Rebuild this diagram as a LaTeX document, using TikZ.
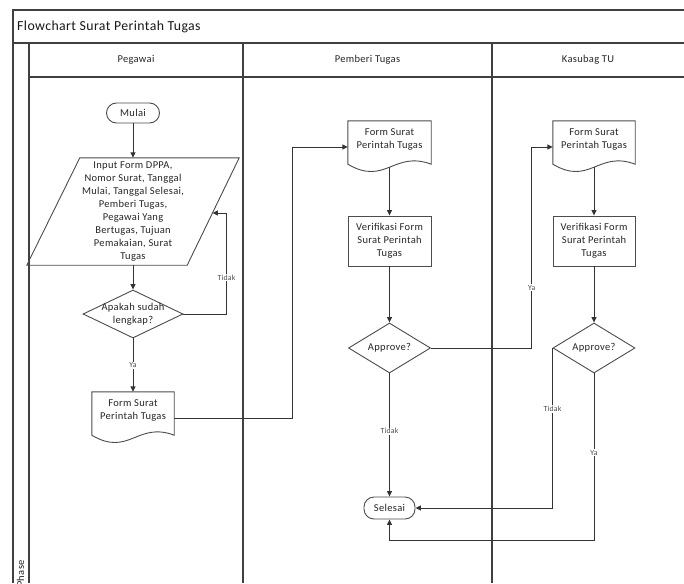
\documentclass[tikz,border=0pt]{standalone}
\usepackage{fontspec}
\setmainfont{Carlito}[LetterSpace=3]
\usetikzlibrary{calc,arrows.meta,shapes.geometric}

\tikzset{
  lane/.style={draw=black!75, line width=1.1pt},
  outline/.style={draw=black!70, line width=0.9pt},
  body/.style={font=\fontsize{10.5}{13}\selectfont, align=center, inner sep=0pt, text=black!85},
  term/.style={body, outline, rounded corners=10pt, minimum height=21pt},
  proc/.style={body, outline, minimum width=83pt, minimum height=50pt},
  decision/.style={outline, diamond, inner sep=0pt},
  docbox/.style={body, minimum width=82pt, minimum height=36pt},
  flow/.style={draw=black!80, line width=0.9pt, -{Triangle[length=5.5pt,width=5pt]}},
  lbl/.style={font=\fontsize{7.8}{9}\selectfont, fill=white, inner sep=1pt, text=black!70},
  hdr/.style={font=\fontsize{10.5}{12}\selectfont, text=black!85},
}

% document symbol: straight sides with a wavy bottom edge
\newcommand\docoutline[1]{%
  \coordinate (#1-bl) at ([yshift=-7pt]#1.south west);
  \coordinate (#1-br) at ([yshift=-7pt]#1.south east);
  \draw[outline] (#1-bl) -- (#1.north west) -- (#1.north east) -- (#1-br)
    .. controls ($(#1-bl)!0.55!(#1-br)+(0,-14)$) and ($(#1-bl)!0.45!(#1-br)+(0,22)$) .. (#1-bl) -- cycle;
}

\begin{document}
\begin{tikzpicture}[x=1pt,y=-1pt]
\useasboundingbox (0,0) rectangle (684,583);
\fill[white] (0,0) rectangle (684,583);

% swimlane frame
\draw[lane] (13,583) -- (13,10) -- (684,10);
\draw[lane] (13,43) -- (684,43);
\draw[lane] (29,43) -- (29,583);
\draw[lane] (29,77) -- (684,77);
\draw[lane] (243,43) -- (243,583);
\draw[lane] (492,43) -- (492,583);

\node[font=\fontsize{13.8}{16}\selectfont, anchor=west, inner sep=0pt, text=black!90] (title) at (17,26.5) {Flowchart Surat Perintah Tugas};
\node[hdr] (h1) at (136,60) {Pegawai};
\node[hdr] (h2) at (367.5,60) {Pemberi Tugas};
\node[hdr] (h3) at (588,60) {Kasubag TU};
\node[hdr, rotate=90, anchor=east, inner sep=0pt] (phase) at (20.5,560) {Phase};

% Pegawai lane
\node[term, minimum width=53pt, minimum height=20pt] (mulai) at (133,113) {Mulai};
\node[body, minimum width=212pt, minimum height=107pt] (inp) at (133,211.5)
  {Input Form DPPA,\\Nomor Surat, Tanggal\\Mulai, Tanggal Selesai,\\Pemberi Tugas,\\Pegawai Yang\\Bertugas, Tujuan\\Pemakaian, Surat\\Tugas};
\coordinate (pTL) at ($(inp.north west)+(53,0)$);
\coordinate (pBR) at ($(inp.south east)+(-52,0)$);
\draw[outline] (pTL) -- (inp.north east) -- (pBR) -- (inp.south west) -- cycle;
\coordinate (inpR) at ($(inp.north east)!0.514!(pBR)$);

\node[decision, minimum width=100pt, minimum height=48pt,
      label={[body]center:Apakah sudah\\lengkap?}] (dec1) at (133,314) {};
\node[docbox] (d1) at (133,410) {Form Surat\\Perintah Tugas};
\docoutline{d1}

% Pemberi Tugas lane
\node[docbox, minimum width=83pt] (d2) at (389.5,139) {Form Surat\\Perintah Tugas};
\docoutline{d2}
\node[proc] (p2) at (389.5,241) {Verifikasi Form\\Surat Perintah\\Tugas};
\node[decision, minimum width=82pt, minimum height=50pt,
      label={[body]center:Approve?}] (dec2) at (389.5,348) {};
\node[term, minimum width=51pt, minimum height=22pt] (sel) at (389.5,508) {Selesai};

% Kasubag TU lane
\node[docbox] (d3) at (594,139) {Form Surat\\Perintah Tugas};
\docoutline{d3}
\node[proc, minimum width=82pt] (p3) at (594,241) {Verifikasi Form\\Surat Perintah\\Tugas};
\node[decision, minimum width=82pt, minimum height=50pt,
      label={[body]center:Approve?}] (dec3) at (594,348) {};

% bend points
\coordinate (jA) at ($([yshift=-8pt]d2.west)+(-55,0)$);
\coordinate (jB) at ($([yshift=-8pt]d3.west)+(-21,0)$);
\coordinate (jC) at ($(sel.south)+(0,21)$);
\coordinate (jD) at ($(inpR)+(14,0)$);

% connectors
\draw[flow] (mulai) -- (inp.north);
\draw[flow] (inp.south) -- (dec1.north);
\draw[flow] (dec1.east) -| node[lbl, pos=0.68] {Tidak} (jD) -- (inpR);
\draw[flow] (dec1.south) -- node[lbl] {Ya} (d1.north);
\draw[flow] ([yshift=-8pt]d1.east) -| (jA) -- ([yshift=-8pt]d2.west);
\draw[flow] ([yshift=-10pt]d2.south) -- (p2.north);
\draw[flow] (p2.south) -- (dec2.north);
\draw[flow] (dec2.east) -| node[lbl, pos=0.65] {Ya} (jB) -- ([yshift=-8pt]d3.west);
\draw[flow] (dec2.south) -- node[lbl, pos=0.47] {Tidak} (sel.north);
\draw[flow] ([yshift=-10pt]d3.south) -- (p3.north);
\draw[flow] (p3.south) -- (dec3.north);
\draw[flow] (dec3.west) |- node[lbl, pos=0.19] {Tidak} (sel.east);
\draw[flow] (dec3.south) |- node[lbl, pos=0.237] {Ya} (jC) -- (sel.south);
\end{tikzpicture}
\end{document}
